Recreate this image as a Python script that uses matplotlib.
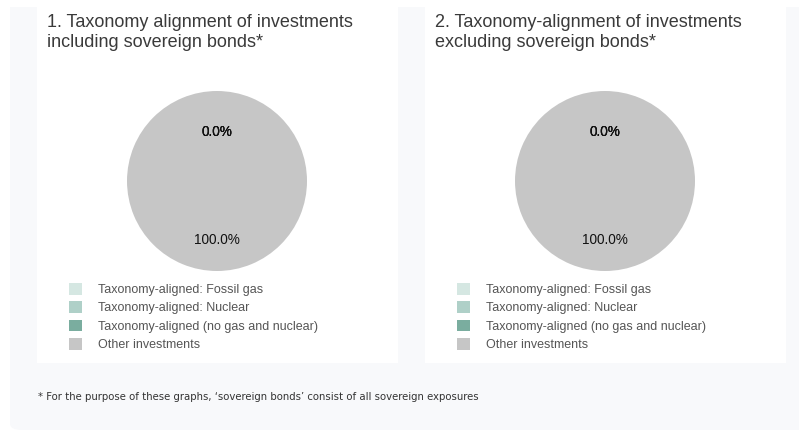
import matplotlib
matplotlib.use("Agg")
import matplotlib.pyplot as plt
from matplotlib.patches import Rectangle, FancyBboxPatch, Patch
from matplotlib import font_manager
from matplotlib.font_manager import FontProperties

# Chart data
titles = ["1. Taxonomy alignment of investments\nincluding sovereign bonds*",
          "2. Taxonomy-alignment of investments\nexcluding sovereign bonds*"]
categories = ["Taxonomy-aligned: Fossil gas",
              "Taxonomy-aligned: Nuclear",
              "Taxonomy-aligned (no gas and nuclear)",
              "Other investments"]
incl_values = [0.0, 0.0, 0.0, 100.0]
excl_values = [0.0, 0.0, 0.0, 100.0]
colors = ["#d5e7e2", "#afd0c8", "#7aad9f", "#c6c6c6"]
footnote = "* For the purpose of these graphs, \u2018sovereign bonds\u2019 consist of all sovereign exposures"

W, H = 799, 430
plt.rcParams["font.family"] = ["Liberation Sans", "DejaVu Sans"]


def fx(x):
    return x / W


def fy(y):
    return 1 - y / H


# footnote in the reference is set in a narrow face; use one if installed
foot_prop = FontProperties(family="Liberation Sans")
condensed = [f for f in font_manager.fontManager.ttflist
             if str(f.stretch) in ("condensed", "semi-condensed", "extra-condensed", "ultra-condensed")
             and "Sans" in f.name and f.weight in (400, "normal", "regular")
             and f.style == "normal"]
for pref in ["Liberation Sans Narrow", "Noto Sans", "DejaVu Sans", "Open Sans", "Roboto"]:
    hit = [f for f in condensed if f.name == pref]
    if hit:
        foot_prop = FontProperties(fname=hit[0].fname)
        break
else:
    narrow = [f for f in font_manager.fontManager.ttflist if "Narrow" in f.name or "Condensed" in f.name]
    if narrow:
        foot_prop = FontProperties(fname=narrow[0].fname)

fig = plt.figure(figsize=(W / 100, H / 100), dpi=100, facecolor="white")

# grey container, rounded at the bottom left
fig.patches.append(FancyBboxPatch((fx(10), fy(430)), fx(800), fy(7) - fy(430),
                                  boxstyle="round,pad=0,rounding_size=0.015",
                                  transform=fig.transFigure, facecolor="#f8f9fb",
                                  edgecolor="none", zorder=0))
fig.patches.append(Rectangle((fx(10), fy(60)), fx(800), fy(7) - fy(60),
                             transform=fig.transFigure, facecolor="#f8f9fb",
                             edgecolor="none", zorder=0))

panels = [(37, 398), (425, 786)]
pie_cx = [217, 605]
pie_cy = 181
radius_px = 90

for i, vals in enumerate([incl_values, excl_values]):
    x0, x1 = panels[i]
    fig.patches.append(Rectangle((fx(x0), fy(363)), fx(x1 - x0), fy(7) - fy(363),
                                 transform=fig.transFigure, facecolor="white",
                                 edgecolor="none", zorder=1))
    fig.text(fx(x0 + 10), fy(14), titles[i], ha="left", va="top", fontsize=13,
             color="#3a3a3a", linespacing=1.2, zorder=3)

    cx = pie_cx[i]
    ax = fig.add_axes([fx(cx - radius_px), fy(pie_cy + radius_px),
                       fx(2 * radius_px), fy(pie_cy - radius_px) - fy(pie_cy + radius_px)])
    ax.set_zorder(2)
    wedges, texts, autotexts = ax.pie(vals, colors=colors, startangle=90, counterclock=False,
                                      autopct="%1.1f%%", pctdistance=0.6, radius=1,
                                      wedgeprops={"linewidth": 0})
    for t in autotexts:
        t.set_fontsize(9.8)
        t.set_color("#111111")
        px, py = t.get_position()
        t.set_position((px, py - 0.06))
    ax.set_xlim(-1, 1)
    ax.set_ylim(-1, 1)
    ax.axis("off")

    handles = [Patch(facecolor=c, edgecolor="none") for c in colors]
    leg = fig.legend(handles, categories, loc="upper left",
                     bbox_to_anchor=(fx(x0 + 32), fy(283)), frameon=False,
                     fontsize=9, handlelength=1.05, handleheight=1.05,
                     handletextpad=1.3, labelspacing=0.42, borderpad=0, borderaxespad=0)
    for t in leg.get_texts():
        t.set_color("#555555")

foot = fig.text(fx(38), fy(397), footnote, ha="left", va="center", fontsize=10,
                fontproperties=foot_prop, color="#333333", zorder=3)
foot.set_fontsize(10)

# narrow the footnote towards the width it takes in the reference
fig.canvas.draw()
width_px = foot.get_window_extent().width
foot.set_fontsize(10 * 440 / width_px)

fig.savefig("out.png", dpi=100, facecolor="white")
